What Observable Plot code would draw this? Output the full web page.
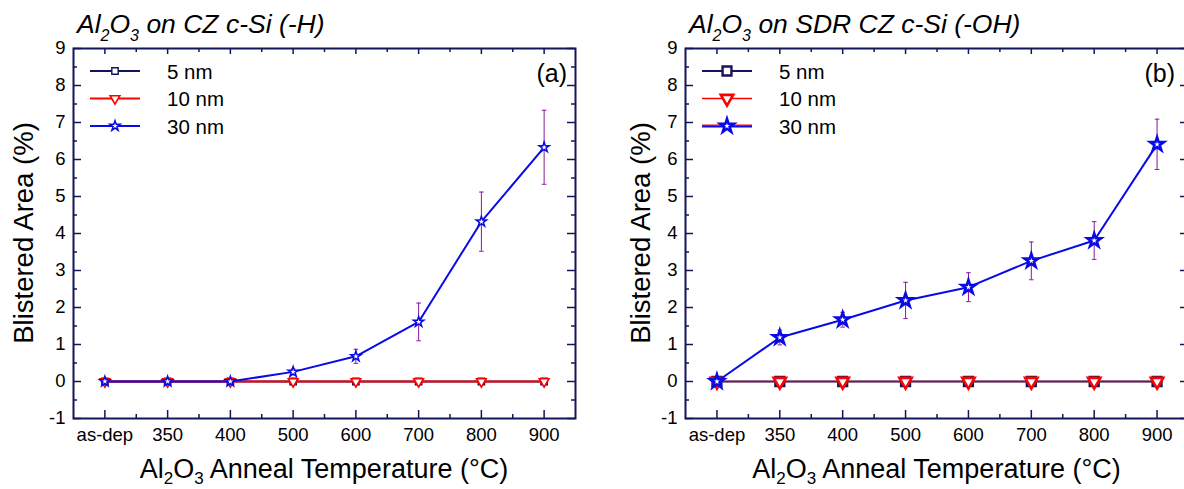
<!DOCTYPE html>
<html><head><meta charset="utf-8">
<script src="https://cdn.jsdelivr.net/npm/d3@7"></script>
<script src="https://cdn.jsdelivr.net/npm/@observablehq/plot@0.6"></script>
<style>
html,body{margin:0;padding:0;background:#fff;overflow:hidden;width:1184px;height:489px}
#wrap{position:relative;width:1184px;height:489px;overflow:hidden}
.panel{position:absolute;top:0}
</style></head><body><div id="wrap"></div>
<script>
// ---- data ----
const categories = ["as-dep", "350", "400", "500", "600", "700", "800", "900"];
const yTicks = [-1, 0, 1, 2, 3, 4, 5, 6, 7, 8, 9];
const seriesNames = ["5 nm", "10 nm", "30 nm"];

// (a) Al2O3 on CZ c-Si (-H)
const a_5nm  = [0, 0, 0, 0, 0, 0, 0, 0];
const a_10nm = [0, 0, 0, 0, 0, 0, 0, 0];
const a_30nm = [0, 0, 0, 0.26, 0.68, 1.61, 4.32, 6.33];
const a_30nmErr = [0, 0, 0, 0.08, 0.19, 0.51, 0.80, 1.00];

// (b) Al2O3 on SDR CZ c-Si (-OH)
const b_5nm  = [0, 0, 0, 0, 0, 0, 0, 0];
const b_10nm = [0, 0, 0, 0, 0, 0, 0, 0];
const b_30nm = [0, 1.19, 1.67, 2.19, 2.55, 3.26, 3.81, 6.41];
const b_30nmErr = [0, 0.20, 0.20, 0.49, 0.39, 0.51, 0.51, 0.68];

// ---- style ----
const FONT = "'Liberation Sans', Arial, sans-serif";
const NAVY = "#14145a";
const RED = "#ff0000";
const BLUE = "#0a0ae6";
const ERR = "#8a1a9a";
const H = 489, MT = 48, MB = 71;

const triangleDown = {draw(ctx, size) {
  const a = Math.sqrt(4 * size / Math.sqrt(3)), h = a * Math.sqrt(3) / 2;
  ctx.moveTo(-a / 2, -h / 3); ctx.lineTo(a / 2, -h / 3); ctx.lineTo(0, 2 * h / 3); ctx.closePath();
}};
const capSymbol = {draw(ctx, size) {
  const w = Math.sqrt(size); ctx.moveTo(-w / 2, 0); ctx.lineTo(w / 2, 0);
}};

function makePanel(cfg) {
  const rows = categories.map((c, i) => ({i, c, v5: cfg.v5[i], v10: cfg.v10[i], v30: cfg.v30[i], e: cfg.e30[i]}));
  const errRows = rows.filter(d => d.e > 0);
  const fw = cfg.width - cfg.ml - cfg.mr, fh = H - MT - MB;
  const majorX = d3.range(categories.length);
  const minorX = majorX.slice(0, -1).map(i => i + 0.5);
  const minorY = yTicks.slice(0, -1).map(v => v + 0.5);
  const tk = {stroke: NAVY, strokeWidth: 1.5};
  const s = cfg.sty;
  const chart = Plot.plot({
    width: cfg.width, height: H,
    marginLeft: cfg.ml, marginRight: cfg.mr, marginTop: MT, marginBottom: MB,
    style: {fontFamily: FONT, color: "#000", background: "transparent"},
    x: {domain: [-0.5, categories.length - 0.5]},
    y: {domain: [yTicks[0], yTicks[yTicks.length - 1]]},
    marks: [
      // inward ticks
      Plot.tickY(yTicks, {y: d => d, insetRight: fw - 8, ...tk}),
      Plot.tickY(minorY, {y: d => d, insetRight: fw - 4, ...tk}),
      Plot.tickY(yTicks, {y: d => d, insetLeft: fw - 8, ...tk}),
      Plot.tickY(minorY, {y: d => d, insetLeft: fw - 4, ...tk}),
      Plot.tickX(majorX, {x: d => d, insetTop: fh - 8, ...tk}),
      Plot.tickX(minorX, {x: d => d, insetTop: fh - 4, ...tk}),
      Plot.tickX(majorX, {x: d => d, insetBottom: fh - 6, ...tk}),
      Plot.tickX(minorX, {x: d => d, insetBottom: fh - 4, ...tk}),
      Plot.axisY({ticks: yTicks, tickFormat: d => String(d), tickSize: 0, tickPadding: 8, fontSize: 18.5, label: null}),
      Plot.axisX({ticks: majorX, tickFormat: i => categories[i], tickSize: 0, tickPadding: 9, fontSize: 18.5, label: null}),
      // error bars
      Plot.ruleX(errRows, {x: "i", y1: d => d.v30 - d.e, y2: d => d.v30 + d.e, stroke: ERR, strokeWidth: 1}),
      Plot.dot(errRows, {x: "i", y: d => d.v30 + d.e, symbol: capSymbol, r: 2.6, stroke: ERR, strokeWidth: 1}),
      Plot.dot(errRows, {x: "i", y: d => d.v30 - d.e, symbol: capSymbol, r: 2.6, stroke: ERR, strokeWidth: 1}),
      // 5 nm
      Plot.line(rows, {x: "i", y: "v5", stroke: NAVY, strokeWidth: s.l5}),
      Plot.dot(rows, {x: "i", y: "v5", symbol: "square", r: s.r5, stroke: NAVY, fill: "white", strokeWidth: s.m5}),
      // 10 nm
      Plot.line(rows, {x: "i", y: "v10", stroke: RED, strokeWidth: s.l10, strokeOpacity: s.o10}),
      Plot.dot(rows, {x: "i", y: "v10", symbol: triangleDown, r: s.r10, stroke: RED, fill: "white", strokeWidth: s.m10}),
      // 30 nm
      Plot.line(rows, {x: "i", y: "v30", stroke: BLUE, strokeWidth: s.l30}),
      Plot.dot(rows, {x: "i", y: "v30", symbol: "star", r: s.r30, stroke: BLUE, fill: "white", strokeWidth: s.m30}),
      Plot.frame({stroke: NAVY, strokeWidth: 2})
    ]
  });
  chart.classList.add("panel");
  chart.style.left = cfg.left + "px";
  const svg = d3.select(chart);
  const fx0 = cfg.ml, fx1 = cfg.width - cfg.mr;
  const addChem = (g, x, y, size, rest, italic, anchor, shift) => {
    const t = g.append("text").attr("x", x).attr("y", y).attr("font-size", size)
      .attr("font-family", FONT).attr("fill", "#000").attr("text-anchor", anchor);
    if (italic) t.attr("font-style", "italic");
    const sub = Math.round(size * 0.62), sh = shift;
    t.append("tspan").text("Al");
    t.append("tspan").attr("font-size", sub).attr("dy", sh).text("2");
    t.append("tspan").attr("dy", -sh).text("O");
    t.append("tspan").attr("font-size", sub).attr("dy", sh).text("3");
    t.append("tspan").attr("dy", -sh).text(rest);
  };
  addChem(svg, fx0 + 4, 33, 26.5, cfg.titleRest, true, "start", 8);
  addChem(svg, (fx0 + fx1) / 2, 478, 27, " Anneal Temperature (°C)", false, "middle", 6);
  svg.append("text").attr("transform", `translate(${cfg.yLabX},${(MT + H - MB) / 2}) rotate(-90)`)
    .attr("text-anchor", "middle").attr("font-size", 27.5).attr("font-family", FONT).attr("fill", "#000")
    .text("Blistered Area (%)");
  svg.append("text").attr("x", fx1 - cfg.tagPad).attr("y", 82).attr("text-anchor", "end")
    .attr("font-size", 25).attr("font-family", FONT).attr("fill", "#000").text(cfg.tag);
  // legend
  const lg = svg.append("g");
  const legendSty = [
    {line: [NAVY], sym: d3.symbolSquare, r: s.r5, stroke: NAVY, sw: s.m5, lw: s.l5},
    {line: [RED], sym: triangleDown, r: s.r10, stroke: RED, sw: s.m10, lw: s.l10},
    {line: cfg.legend30Lines, sym: d3.symbolStar, r: s.r30, stroke: BLUE, sw: s.m30, lw: s.l30}
  ];
  seriesNames.forEach((name, k) => {
    const y = 71 + k * 27.5, st = legendSty[k];
    st.line.forEach((col, j) => {
      const off = st.line.length > 1 ? (j === 0 ? -0.8 : 0.8) : 0;
      lg.append("line").attr("x1", fx0 + 17).attr("x2", fx0 + 67).attr("y1", y + off).attr("y2", y + off)
        .attr("stroke", col).attr("stroke-width", st.line.length > 1 ? 1.4 : st.lw);
    });
    lg.append("path").attr("transform", `translate(${fx0 + 42},${y})`)
      .attr("d", d3.symbol(st.sym, Math.PI * st.r * st.r)())
      .attr("fill", "white").attr("stroke", st.stroke).attr("stroke-width", st.sw);
    lg.append("text").attr("x", fx0 + 94).attr("y", y + 7.5).attr("font-size", 20.5)
      .attr("text-anchor", "start")
      .attr("font-family", FONT).attr("fill", "#000").text(name);
  });
  return chart;
}

const wrap = document.getElementById("wrap");
wrap.append(makePanel({
  left: 0, width: 592, ml: 73, mr: 17,
  v5: a_5nm, v10: a_10nm, v30: a_30nm, e30: a_30nmErr,
  titleRest: " on CZ c-Si (-H)", tag: "(a)", tagPad: 8, yLabX: 33,
  legend30Lines: [BLUE],
  sty: {l5: 2, r5: 3.6, m5: 1.4, l10: 2, o10: 1, r10: 3.6, m10: 1.6, l30: 2, r30: 3.2, m30: 1.5}
}));
wrap.append(makePanel({
  left: 592, width: 600, ml: 93, mr: 4,
  v5: b_5nm, v10: b_10nm, v30: b_30nm, e30: b_30nmErr,
  titleRest: " on SDR CZ c-Si (-OH)", tag: "(b)", tagPad: 13, yLabX: 58,
  legend30Lines: [RED, BLUE],
  sty: {l5: 2.2, r5: 5, m5: 2.4, l10: 1.6, o10: 0.6, r10: 4.6, m10: 2.6, l30: 2, r30: 4.3, m30: 2.6}
}));
</script>
</body></html>
